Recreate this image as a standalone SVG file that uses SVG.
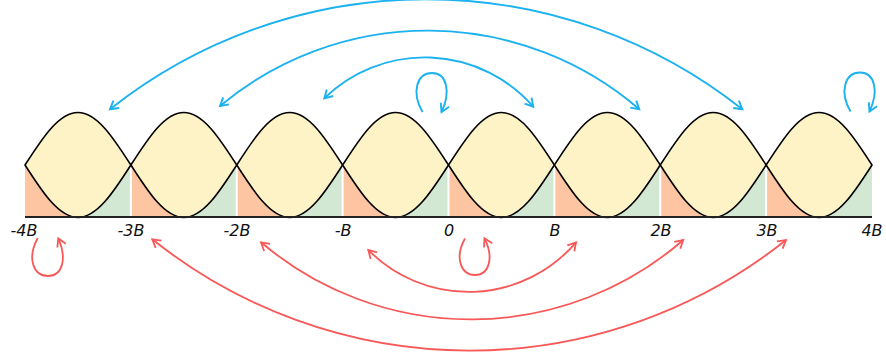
<svg xmlns="http://www.w3.org/2000/svg" width="886" height="362" viewBox="0 0 886 362">
<style>
.or{fill:#fdc5a1}
.gr{fill:#d3e8d3}
.sep{stroke:#fff;stroke-width:2}
.lobe{fill:#fef2c7;stroke:#000;stroke-width:1.6;stroke-linejoin:round}
.axis{stroke:#222;stroke-width:2}
.lbl{font-family:"DejaVu Sans",sans-serif;font-style:italic;font-size:16px;fill:#111;text-anchor:middle}
.blue{fill:none;stroke:#1cb2ef;stroke-width:1.9}
.red{fill:none;stroke:#f85858;stroke-width:1.8}
</style>
<defs>
<marker id="ab" markerUnits="userSpaceOnUse" markerWidth="20" markerHeight="20" viewBox="-10 -10 20 20" refX="0" refY="0" orient="auto-start-reverse">
<path d="M-8,-4.6 L0,0 L-8,4.6" fill="none" stroke="#1cb2ef" stroke-width="1.9"/>
</marker>
<marker id="ar" markerUnits="userSpaceOnUse" markerWidth="20" markerHeight="20" viewBox="-10 -10 20 20" refX="0" refY="0" orient="auto-start-reverse">
<path d="M-8,-4.6 L0,0 L-8,4.6" fill="none" stroke="#f85858" stroke-width="1.8"/>
</marker>
</defs>

<g id="fills">
<rect class="or" x="25" y="165" width="52.94" height="52.5"/>
<rect class="gr" x="77.94" y="165" width="52.94" height="52.5"/>
<rect class="or" x="130.875" y="165" width="52.94" height="52.5"/>
<rect class="gr" x="183.81" y="165" width="52.94" height="52.5"/>
<rect class="or" x="236.75" y="165" width="52.94" height="52.5"/>
<rect class="gr" x="289.69" y="165" width="52.94" height="52.5"/>
<rect class="or" x="342.625" y="165" width="52.94" height="52.5"/>
<rect class="gr" x="395.56" y="165" width="52.94" height="52.5"/>
<rect class="or" x="448.5" y="165" width="52.94" height="52.5"/>
<rect class="gr" x="501.44" y="165" width="52.94" height="52.5"/>
<rect class="or" x="554.375" y="165" width="52.94" height="52.5"/>
<rect class="gr" x="607.31" y="165" width="52.94" height="52.5"/>
<rect class="or" x="660.25" y="165" width="52.94" height="52.5"/>
<rect class="gr" x="713.19" y="165" width="52.94" height="52.5"/>
<rect class="or" x="766.125" y="165" width="52.94" height="52.5"/>
<rect class="gr" x="819.06" y="165" width="52.94" height="52.5"/>
<line class="sep" x1="130.875" y1="165" x2="130.875" y2="217"/>
<line class="sep" x1="236.75" y1="165" x2="236.75" y2="217"/>
<line class="sep" x1="342.625" y1="165" x2="342.625" y2="217"/>
<line class="sep" x1="448.5" y1="165" x2="448.5" y2="217"/>
<line class="sep" x1="554.375" y1="165" x2="554.375" y2="217"/>
<line class="sep" x1="660.25" y1="165" x2="660.25" y2="217"/>
<line class="sep" x1="766.125" y1="165" x2="766.125" y2="217"/>
</g>

<g id="lobe-1" transform="translate(25,0)"><path class="lobe" d="M0,165 c17.26,-26.9 33.78,-52.5 52.94,-52.5 s35.68,25.6 52.94,52.5 c-17.26,26.9 -33.78,52.5 -52.94,52.5 s-35.68,-25.6 -52.94,-52.5 Z"/></g>
<g id="lobe-2" transform="translate(130.875,0)"><path class="lobe" d="M0,165 c17.26,-26.9 33.78,-52.5 52.94,-52.5 s35.68,25.6 52.94,52.5 c-17.26,26.9 -33.78,52.5 -52.94,52.5 s-35.68,-25.6 -52.94,-52.5 Z"/></g>
<g id="lobe-3" transform="translate(236.75,0)"><path class="lobe" d="M0,165 c17.26,-26.9 33.78,-52.5 52.94,-52.5 s35.68,25.6 52.94,52.5 c-17.26,26.9 -33.78,52.5 -52.94,52.5 s-35.68,-25.6 -52.94,-52.5 Z"/></g>
<g id="lobe-4" transform="translate(342.625,0)"><path class="lobe" d="M0,165 c17.26,-26.9 33.78,-52.5 52.94,-52.5 s35.68,25.6 52.94,52.5 c-17.26,26.9 -33.78,52.5 -52.94,52.5 s-35.68,-25.6 -52.94,-52.5 Z"/></g>
<g id="lobe-5" transform="translate(448.5,0)"><path class="lobe" d="M0,165 c17.26,-26.9 33.78,-52.5 52.94,-52.5 s35.68,25.6 52.94,52.5 c-17.26,26.9 -33.78,52.5 -52.94,52.5 s-35.68,-25.6 -52.94,-52.5 Z"/></g>
<g id="lobe-6" transform="translate(554.375,0)"><path class="lobe" d="M0,165 c17.26,-26.9 33.78,-52.5 52.94,-52.5 s35.68,25.6 52.94,52.5 c-17.26,26.9 -33.78,52.5 -52.94,52.5 s-35.68,-25.6 -52.94,-52.5 Z"/></g>
<g id="lobe-7" transform="translate(660.25,0)"><path class="lobe" d="M0,165 c17.26,-26.9 33.78,-52.5 52.94,-52.5 s35.68,25.6 52.94,52.5 c-17.26,26.9 -33.78,52.5 -52.94,52.5 s-35.68,-25.6 -52.94,-52.5 Z"/></g>
<g id="lobe-8" transform="translate(766.125,0)"><path class="lobe" d="M0,165 c17.26,-26.9 33.78,-52.5 52.94,-52.5 s35.68,25.6 52.94,52.5 c-17.26,26.9 -33.78,52.5 -52.94,52.5 s-35.68,-25.6 -52.94,-52.5 Z"/></g>

<g id="axis">
<line class="axis" x1="25" y1="217" x2="872" y2="217"/>
</g>

<g id="labels">
<text class="lbl" x="24" y="235.5">-4B</text>
<text class="lbl" x="131" y="235.5">-3B</text>
<text class="lbl" x="237" y="235.5">-2B</text>
<text class="lbl" x="343" y="235.5">-B</text>
<text class="lbl" x="449" y="235.5">0</text>
<text class="lbl" x="555" y="235.5">B</text>
<text class="lbl" x="661" y="235.5">2B</text>
<text class="lbl" x="767" y="235.5">3B</text>
<text class="lbl" x="872" y="235.5">4B</text>
</g>

<g id="connectors">
<path class="blue" marker-start="url(#ab)" marker-end="url(#ab)" d="M110,109.3 A509,509 0 0 1 742.3,109.3"/>
<path class="blue" marker-start="url(#ab)" marker-end="url(#ab)" d="M220,106 A324,324 0 0 1 639.3,109.3"/>
<path class="blue" marker-start="url(#ab)" marker-end="url(#ab)" d="M324.3,98.3 A144,144 0 0 1 533.3,106.7"/>
<path class="blue" marker-end="url(#ab)" d="M422.5,112 C411,92 417,73 432,73 C447,73 451,92 441.5,112"/>
<path class="blue" marker-end="url(#ab)" d="M850.5,111.5 C839,91.5 845,72.5 860,72.5 C875,72.5 879,91.5 869.5,111.5"/>
<path class="red" marker-start="url(#ar)" marker-end="url(#ar)" d="M152.3,239.3 A508,508 0 0 0 786,240"/>
<path class="red" marker-start="url(#ar)" marker-end="url(#ar)" d="M261,242.3 A324,324 0 0 0 683.3,240"/>
<path class="red" marker-start="url(#ar)" marker-end="url(#ar)" d="M368.3,250 A141,141 0 0 0 576,242.3"/>
<path class="red" marker-end="url(#ar)" d="M37.7,238 C27,258 33,276 48,276 C63,276 67,258 58.3,238.3"/>
<path class="red" marker-end="url(#ar)" d="M465,238.5 C454.5,257 460.5,275 475,275 C489.5,275 494,257 484.5,238.3"/>
</g>
</svg>
